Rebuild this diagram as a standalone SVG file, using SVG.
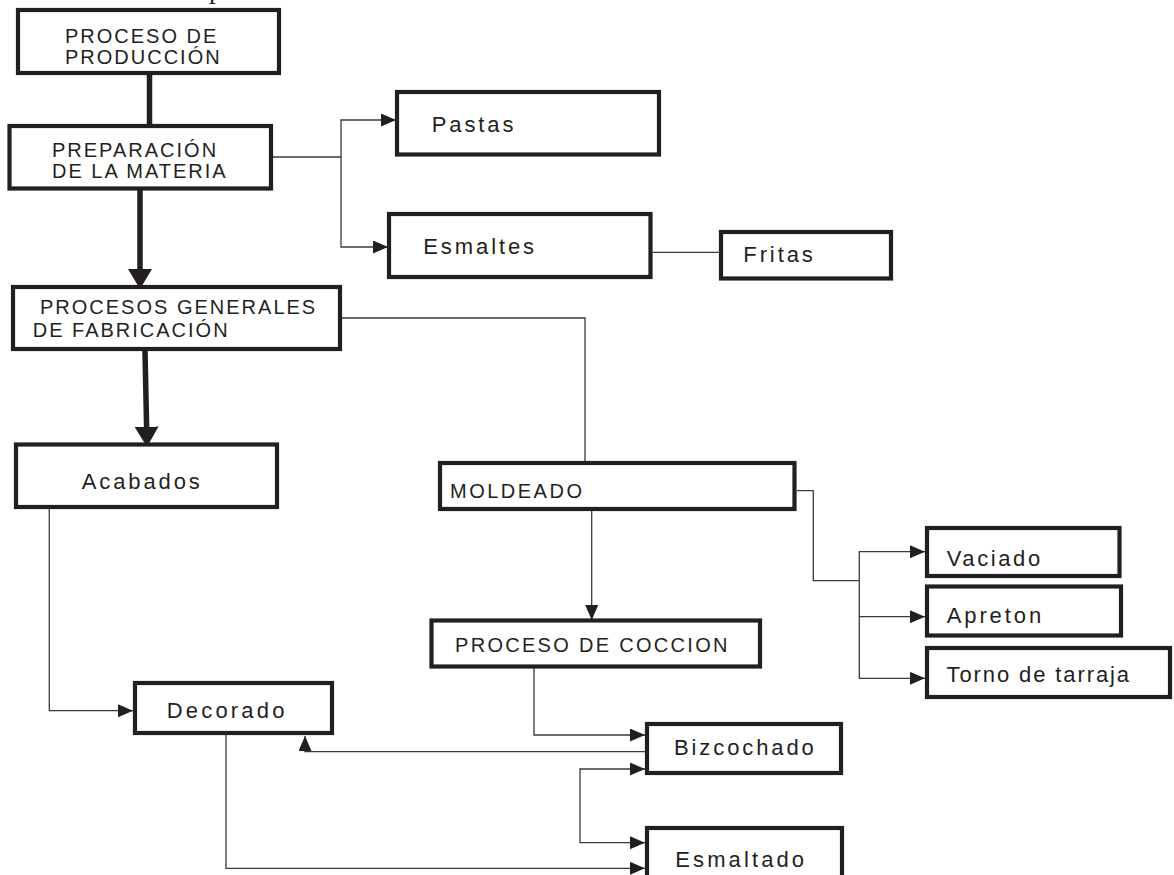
<svg xmlns="http://www.w3.org/2000/svg" width="1174" height="875" viewBox="0 0 1174 875">
<defs>
<style>
.box{fill:#fff;stroke:#231f20;stroke-width:4.2}
.up{font-family:"Liberation Sans",Arial,sans-serif;font-size:20px;letter-spacing:2px;fill:#231f20}
.lo{font-family:"Liberation Sans",Arial,sans-serif;font-size:22px;letter-spacing:2.9px;fill:#231f20}
.thin{fill:none;stroke:#3a3a3a;stroke-width:1.3}
.thick{fill:none;stroke:#231f20;stroke-width:5.5}
</style>
<marker id="arr" markerUnits="userSpaceOnUse" markerWidth="16" markerHeight="14" refX="15" refY="6.5" orient="auto">
<path d="M0,0 L15,6.5 L0,13 z" fill="#231f20"/>
</marker>
<marker id="arrT" markerUnits="userSpaceOnUse" markerWidth="21" markerHeight="25" refX="5" refY="12" orient="auto">
<path d="M0,0 L20,12 L0,24 z" fill="#231f20"/>
</marker>
</defs>
<rect width="1174" height="875" fill="#fff"/>
<text x="209" y="-2" font-family="Liberation Serif,serif" font-size="27" fill="#231f20">p</text>

<g id="connectors">
<path class="thick" d="M149.5,75 V124"/>
<path class="thick" d="M140,190 V274" marker-end="url(#arrT)"/>
<path class="thick" d="M145,351 L146.7,431.7" marker-end="url(#arrT)"/>
<path class="thin" d="M273,157 H341"/>
<path class="thin" d="M341,157 V120 H396" marker-end="url(#arr)"/>
<path class="thin" d="M341,157 V247 H388" marker-end="url(#arr)"/>
<path class="thin" d="M652.7,252.3 H719"/>
<path class="thin" d="M342,318 H585 V461"/>
<path class="thin" d="M591.7,511 V620" marker-end="url(#arr)"/>
<path class="thin" d="M797,490.7 H813.3 V580.7 H859.3"/>
<path class="thin" d="M859.3,580.7 V551.7 H925" marker-end="url(#arr)"/>
<path class="thin" d="M859.3,580.7 V616.7 H925" marker-end="url(#arr)"/>
<path class="thin" d="M859.3,616.7 V678.3 H925" marker-end="url(#arr)"/>
<path class="thin" d="M49.3,509 V710.7 H133" marker-end="url(#arr)"/>
<path class="thin" d="M226,735 V868.3 H645" marker-end="url(#arr)"/>
<path class="thin" d="M534,668 V735 H645" marker-end="url(#arr)"/>
<path class="thin" d="M645,751.7 H305 V736" marker-end="url(#arr)"/>
<path class="thin" d="M580,800 V769 H645" marker-end="url(#arr)"/>
<path class="thin" d="M580,800 V842.7 H645" marker-end="url(#arr)"/>
</g>

<g id="n1"><rect class="box" x="18" y="10" width="261" height="63"/>
<text class="up" x="65" y="42.5">PROCESO DE</text><text class="up" x="65" y="64">PRODUCCIÓN</text></g>
<g id="n2"><rect class="box" x="9.5" y="126" width="261.5" height="62.5"/>
<text class="up" x="52" y="157">PREPARACIÓN</text><text class="up" x="52" y="178">DE LA MATERIA</text></g>
<g id="n3"><rect class="box" x="397" y="92" width="262" height="62.5"/>
<text class="lo" x="431.7" y="132.3">Pastas</text></g>
<g id="n4"><rect class="box" x="389" y="214" width="261.5" height="63"/>
<text class="lo" x="423.3" y="254">Esmaltes</text></g>
<g id="n5"><rect class="box" x="721" y="232" width="170" height="46.5"/>
<text class="lo" x="743.3" y="262.3">Fritas</text></g>
<g id="n6"><rect class="box" x="13" y="287" width="327" height="62"/>
<text class="up" x="40" y="314.3">PROCESOS GENERALES</text><text class="up" x="32.7" y="336.7">DE FABRICACIÓN</text></g>
<g id="n7"><rect class="box" x="16" y="444.5" width="261" height="62.5"/>
<text class="lo" x="81.7" y="489.3">Acabados</text></g>
<g id="n8"><rect class="box" x="440" y="463" width="354.5" height="46"/>
<text class="up" x="450" y="498.3" style="letter-spacing:2.5px">MOLDEADO</text></g>
<g id="n9"><rect class="box" x="927" y="528" width="192.5" height="48"/>
<text class="lo" x="946.7" y="565.7" style="letter-spacing:2.6px">Vaciado</text></g>
<g id="n10"><rect class="box" x="927" y="586.5" width="194" height="49"/>
<text class="lo" x="946.7" y="622.7">Apreton</text></g>
<g id="n11"><rect class="box" x="927" y="648" width="243" height="49"/>
<text class="lo" x="946.5" y="681.5" style="letter-spacing:1.9px">Torno de tarraja</text></g>
<g id="n12"><rect class="box" x="431.5" y="620.5" width="328.5" height="46"/>
<text class="up" x="455" y="652.3" style="letter-spacing:2.3px">PROCESO DE COCCION</text></g>
<g id="n13"><rect class="box" x="135" y="683" width="197" height="50"/>
<text class="lo" x="166.7" y="717.7" style="letter-spacing:3.2px">Decorado</text></g>
<g id="n14"><rect class="box" x="647" y="724" width="194" height="49"/>
<text class="lo" x="674" y="754.5">Bizcochado</text></g>
<g id="n15"><rect class="box" x="647" y="828" width="195" height="60"/>
<text class="lo" x="675.3" y="866.7" style="letter-spacing:3.1px">Esmaltado</text></g>
</svg>
